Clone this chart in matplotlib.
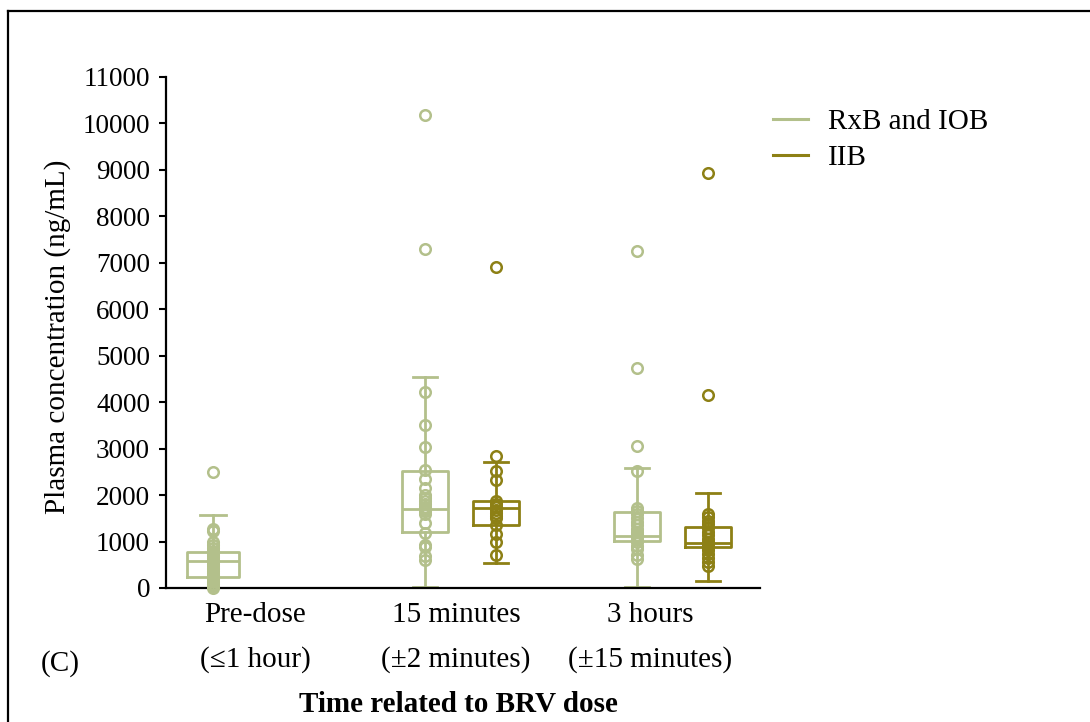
import matplotlib
matplotlib.use("Agg")
import matplotlib.pyplot as plt
from matplotlib.lines import Line2D

plt.rcParams['font.family'] = ['Liberation Serif', 'DejaVu Serif']

# ---------------- data ----------------
categories = ['Pre-dose', '15 minutes', '3 hours']
windows = ['(\u22641 hour)', '(\u00b12 minutes)', '(\u00b115 minutes)']
series_names = ['RxB and IOB', 'IIB']

# box statistics (ng/mL)
rxb_q1 = [243, 1195, 1018]
rxb_med = [573, 1710, 1120]
rxb_q3 = [773, 2517, 1627]
rxb_lo = [0, 20, 30]
rxb_hi = [1573, 4534, 2590]

iib_q1 = [1360, 890]
iib_med = [1720, 975]
iib_q3 = [1876, 1305]
iib_lo = [529, 157]
iib_hi = [2711, 2035]

# individual observations (ng/mL)
pre_rxb = [2490, 1260, 1220, 990, 930, 860, 800, 760, 720, 680, 640, 600, 560,
           520, 480, 440, 400, 360, 320, 280, 240, 200, 160, 120, 80, 40, 10]
min15_rxb = [10180, 7300, 4220, 3500, 3040, 2540, 2350, 2150, 2010, 1940, 1870,
             1800, 1750, 1700, 1650, 1590, 1400, 1180, 920, 880, 690, 600]
min15_iib = [6900, 2850, 2520, 2320, 1880, 1800, 1740, 1680, 1620, 1560, 1500,
             1350, 1160, 980, 710]
h3_rxb = [7250, 4730, 3050, 2520, 1720, 1650, 1590, 1500, 1420, 1350, 1280,
          1210, 1150, 1100, 1050, 980, 900, 840, 700, 620]
h3_iib = [8930, 4160, 1590, 1520, 1440, 1380, 1300, 1210, 1150, 1060, 980, 930,
          880, 820, 730, 640, 550, 470]

rxb_points = [pre_rxb, min15_rxb, h3_rxb]
iib_points = [min15_iib, h3_iib]

# ---------------- styling / layout ----------------
light = '#b3c08b'
dark = '#8d8015'
rxb_pos = [0, 1, 2]
iib_pos = [1.335, 2.335]
label_pos = [0.2, 1.145, 2.06]
rxb_w = [0.245, 0.22, 0.22]
iib_w = [0.22, 0.22]

fig = plt.figure(figsize=(10.9, 7.22), dpi=100)
ax = fig.add_axes([0.1523, 0.1856, 0.5450, 0.7078])


def stats(q1, med, q3, lo, hi):
    return [dict(q1=a, med=b, q3=c, whislo=d, whishi=e, fliers=[])
            for a, b, c, d, e in zip(q1, med, q3, lo, hi)]


for st, pos, wid, col, pts in [
        (stats(rxb_q1, rxb_med, rxb_q3, rxb_lo, rxb_hi), rxb_pos, rxb_w, light, rxb_points),
        (stats(iib_q1, iib_med, iib_q3, iib_lo, iib_hi), iib_pos, iib_w, dark, iib_points)]:
    lp = dict(color=col, linewidth=2.0)
    ax.bxp(st, positions=pos, widths=wid, showfliers=False, patch_artist=False,
           boxprops=lp, whiskerprops=lp, capprops=lp, medianprops=lp,
           capwidths=[w * 0.5 for w in wid], manage_ticks=False, zorder=2)
    for x, vals in zip(pos, pts):
        ax.plot([x] * len(vals), vals, linestyle='none', marker='o', markersize=7.6,
                markerfacecolor='none', markeredgecolor=col, markeredgewidth=1.8,
                zorder=3, clip_on=False)

ax.set_xlim(-0.222, 2.58)
ax.set_ylim(0, 11000)
ax.set_yticks(range(0, 11001, 1000))
ax.tick_params(axis='y', labelsize=19.5, length=5, width=1.5, pad=6.5)
ax.set_xticks(label_pos)
ax.set_xticklabels([f'{c}\n{w}' for c, w in zip(categories, windows)],
                   fontsize=21, linespacing=1.9)
ax.tick_params(axis='x', length=0, pad=10)
for s in ['top', 'right']:
    ax.spines[s].set_visible(False)
for s in ['left', 'bottom']:
    ax.spines[s].set_linewidth(1.6)

fig.text(58 / 1090, 1 - 337 / 722, 'Plasma concentration (ng/mL)', fontsize=21,
         rotation=90, ha='center', va='center')

fig.text(60 / 1090, 1 - 664 / 722, '(C)', fontsize=21, ha='center', va='center')
fig.text(458 / 1090, 1 - 704 / 722, 'Time related to BRV dose', fontsize=21,
         fontweight='bold', ha='center', va='center')

handles = [Line2D([], [], color=light, linewidth=2.2),
           Line2D([], [], color=dark, linewidth=2.2)]
fig.legend(handles, series_names, loc='upper left',
           bbox_to_anchor=(773 / 1090, 1 - 109 / 722), frameon=False,
           fontsize=21, handlelength=1.2, handletextpad=0.69, labelspacing=0.33,
           borderpad=0, borderaxespad=0)

# figure frame (top and left edges)
fig.add_artist(Line2D([8 / 1090, 1], [1 - 11 / 722, 1 - 11 / 722],
                      transform=fig.transFigure, color='black', linewidth=1.6))
fig.add_artist(Line2D([8 / 1090, 8 / 1090], [0, 1 - 11 / 722],
                      transform=fig.transFigure, color='black', linewidth=1.6))

fig.savefig('out.png', dpi=100)
